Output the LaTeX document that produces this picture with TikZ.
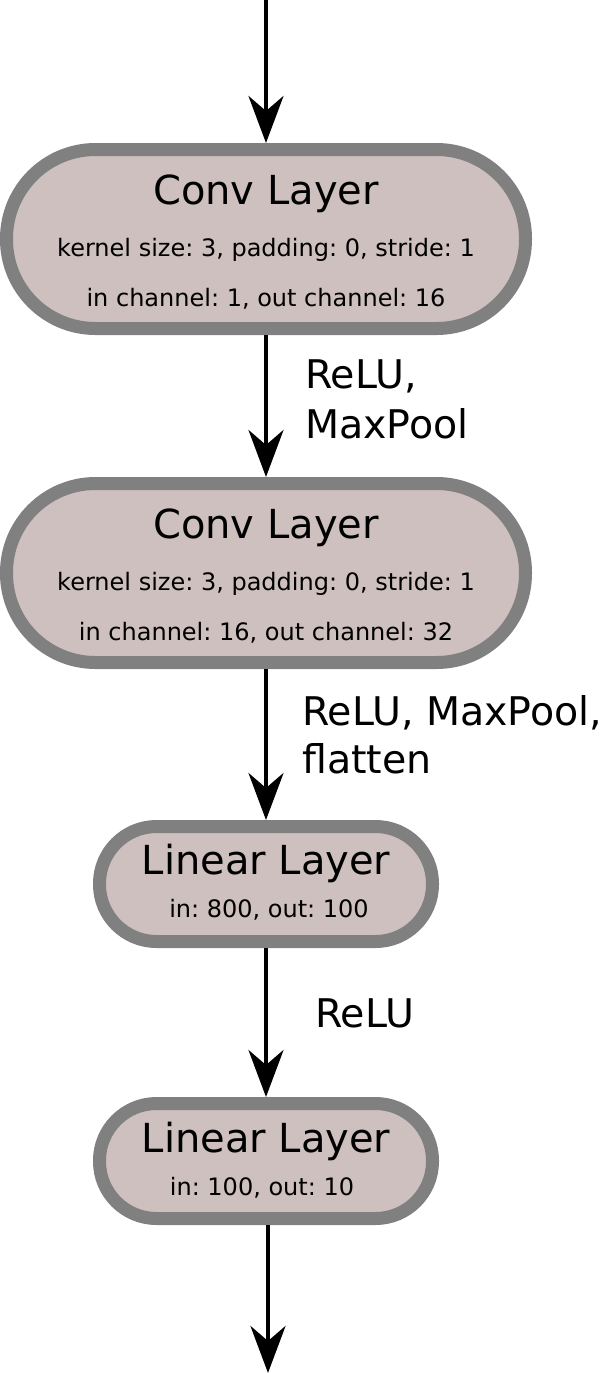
\documentclass[tikz,border=0pt]{standalone}
\usepackage{fontspec}
\setmainfont{DejaVu Sans}
\usetikzlibrary{arrows.meta}
\definecolor{boxfill}{RGB}{205,192,190}
\definecolor{boxline}{RGB}{128,128,128}
\frenchspacing
\begin{document}
\begin{tikzpicture}[x=1pt,y=-1pt,
  layerbox/.style={draw=boxline, fill=boxfill, line width=13pt, rectangle, inner sep=0pt},
  convbox/.style={layerbox, rounded corners=89pt, minimum width=519pt, minimum height=179pt},
  linbox/.style={layerbox, rounded corners=57pt, minimum width=333pt, minimum height=115pt},
  title/.style={font=\fontsize{40}{48}\selectfont, anchor=base, inner sep=0pt},
  detail/.style={font=\fontsize{24}{29}\selectfont, anchor=base, inner sep=0pt},
  lbl/.style={font=\fontsize{39.5}{50}\selectfont, anchor=base west, inner sep=0pt},
  flow/.style={line width=4pt, -{Stealth[length=47pt,width=35pt,inset=15pt]}}]
\useasboundingbox (0,0) rectangle (601,1373);

\node[convbox] (c1) at (266,239) {};
\node[title] (c1t) at (266,204) {Conv Layer};
\node[detail] (c1a) at (266,256) {kernel size: 3, padding: 0, stride: 1};
\node[detail] (c1b) at (266,306) {in channel: 1, out channel: 16};

\node[convbox] (c2) at (266,573) {};
\node[title] (c2t) at (266,538) {Conv Layer};
\node[detail] (c2a) at (266,590) {kernel size: 3, padding: 0, stride: 1};
\node[detail] (c2b) at (266,640) {in channel: 16, out channel: 32};

\node[linbox] (l1) at (266,884) {};
\node[title] (l1t) at (266,874) {Linear Layer};
\node[detail] (l1a) at (269,917) {in: 800, out: 100};

\node[linbox] (l2) at (266,1161) {};
\node[title] (l2t) at (266,1152) {Linear Layer};
\node[detail] (l2a) at (262,1195) {in: 100, out: 10};

\coordinate (inp) at (266,0);
\coordinate (outp) at (268,1373);

\draw[flow] (inp) -- (c1.north);
\draw[flow] (c1.south) -- (c2.north);
\draw[flow] (c2.south) -- (l1.north);
\draw[flow] (l1.south) -- (l2.north);
\draw[flow] (l2.south -| outp) -- (outp);

\node[lbl] (r1a) at (305,388) {ReLU,};
\node[lbl] (r1b) at (305,438) {MaxPool};
\node[lbl] (r2a) at (302,725) {ReLU, MaxPool,};
\node[lbl] (r2b) at (302,773) {flatten};
\node[lbl] (r3) at (315,1027) {ReLU};
\end{tikzpicture}
\end{document}
